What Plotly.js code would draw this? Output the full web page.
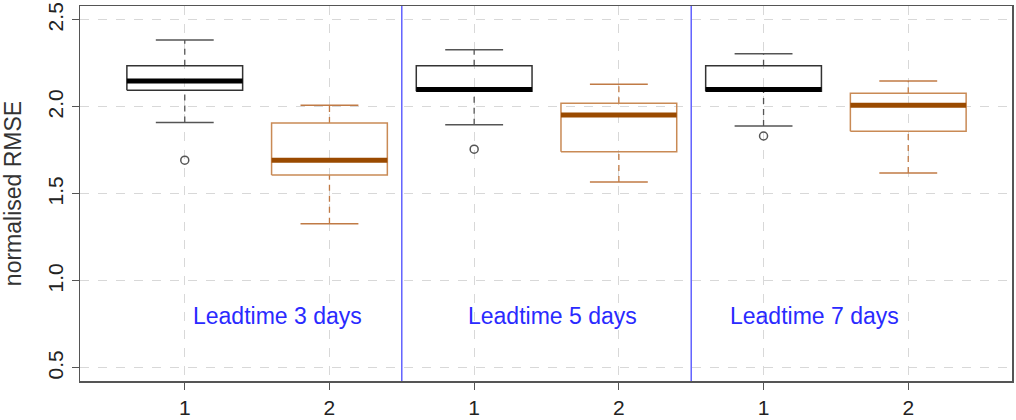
<!DOCTYPE html>
<html>
<head>
<meta charset="utf-8">
<script src="https://cdn.plot.ly/plotly-3.0.1.min.js"></script>
<style>html,body{margin:0;padding:0;background:#fff;}#chart{width:1016px;height:420px;}</style>
</head>
<body>
<div id="chart"></div>
<script>
// ---- data ----
var positions = [1, 2, 3, 4, 5, 6];
var tickLabels = ['1', '2', '1', '2', '1', '2'];
var methodIndex = [0, 1, 0, 1, 0, 1];
var lowerWhisker = [1.910, 1.328, 1.897, 1.569, 1.891, 1.621];
var q1 = [2.096, 1.609, 2.090, 1.743, 2.090, 1.860];
var median = [2.149, 1.694, 2.100, 1.954, 2.100, 2.010];
var q3 = [2.237, 1.908, 2.237, 2.021, 2.237, 2.079];
var upperWhisker = [2.385, 2.010, 2.328, 2.130, 2.305, 2.149];
var outliers = [[1.694], [], [1.757], [], [1.833], []];
var panelLabels = ['Leadtime 3 days', 'Leadtime 5 days', 'Leadtime 7 days'];
var panelLabelX = [1.64, 3.54, 5.35];
var panelLabelY = 0.80;
var separators = [2.5, 4.5];
var yTicks = [0.5, 1.0, 1.5, 2.0, 2.5];
var yTickText = ['0.5', '1.0', '1.5', '2.0', '2.5'];

// ---- styles ----
var boxLine = ['#333333', '#c98a55'];
var capLine = ['#555555', '#c07a45'];
var medLine = ['#000000', '#9a4a00'];
var halfBox = 0.4, halfCap = 0.2;
var FONT = 'Liberation Sans, Arial, sans-serif';

var traces = [];
positions.forEach(function (p, i) {
  var m = methodIndex[i];
  traces.push({type: 'scatter', mode: 'lines', hoverinfo: 'skip', showlegend: false,
    x: [p, p, null, p, p], y: [lowerWhisker[i], q1[i], null, q3[i], upperWhisker[i]],
    line: {color: capLine[m], width: 1.3, dash: '6px,5px'}});
  traces.push({type: 'scatter', mode: 'lines', hoverinfo: 'skip', showlegend: false,
    x: [p - halfCap, p + halfCap, null, p - halfCap, p + halfCap],
    y: [lowerWhisker[i], lowerWhisker[i], null, upperWhisker[i], upperWhisker[i]],
    line: {color: capLine[m], width: 1.5}});
  traces.push({type: 'scatter', mode: 'lines', showlegend: false,
    x: [p - halfBox, p + halfBox, p + halfBox, p - halfBox, p - halfBox],
    y: [q1[i], q1[i], q3[i], q3[i], q1[i]],
    line: {color: boxLine[m], width: 1.5}, hoverinfo: 'skip'});
  traces.push({type: 'scatter', mode: 'lines', showlegend: false,
    x: [p - halfBox, p + halfBox], y: [median[i], median[i]],
    line: {color: medLine[m], width: 5}, hovertemplate: 'median %{y}<extra></extra>'});
  if (outliers[i].length) {
    traces.push({type: 'scatter', mode: 'markers', showlegend: false,
      x: outliers[i].map(function () { return p; }), y: outliers[i],
      marker: {symbol: 'circle-open', size: 8, color: '#555555', line: {width: 1.5, color: '#555555'}}});
  }
});

var shapes = separators.map(function (s) {
  return {type: 'line', xref: 'x', yref: 'paper', x0: s, x1: s, y0: 0, y1: 1,
    line: {color: '#4a4aff', width: 1.3}};
});

var annotations = panelLabels.map(function (t, k) {
  return {text: t, x: panelLabelX[k], y: panelLabelY, xref: 'x', yref: 'y', showarrow: false,
    font: {family: FONT, size: 23, color: '#2a2aff'}};
});

var tickFont = {family: FONT, size: 21, color: '#222'};

var layout = {
  width: 1016, height: 420,
  margin: {l: 80, r: 4, t: 6, b: 39},
  paper_bgcolor: '#fff', plot_bgcolor: '#fff',
  showlegend: false,
  xaxis: {range: [0.276, 6.717], tickmode: 'array', tickvals: positions, ticktext: tickLabels,
    showgrid: true, gridcolor: '#d8d8d8', griddash: 'dash', gridwidth: 1,
    zeroline: false, showline: true, linecolor: '#555', linewidth: 1.5, mirror: true,
    ticks: 'outside', ticklen: 7, tickcolor: '#555', tickfont: tickFont},
  yaxis: {range: [0.425, 2.58], tickmode: 'array', tickvals: yTicks, ticktext: yTickText,
    tickangle: -90, showgrid: true, gridcolor: '#d8d8d8', griddash: 'dash', gridwidth: 1,
    zeroline: false, showline: true, linecolor: '#555', linewidth: 1.5, mirror: true,
    ticks: 'outside', ticklen: 7, tickcolor: '#555', tickfont: tickFont,
    title: {text: 'normalised RMSE', standoff: 26,
      font: {family: FONT, size: 23, color: '#333'}}},
  shapes: shapes,
  annotations: annotations
};

Plotly.newPlot('chart', traces, layout, {displayModeBar: false, staticPlot: true});
</script>
</body>
</html>
